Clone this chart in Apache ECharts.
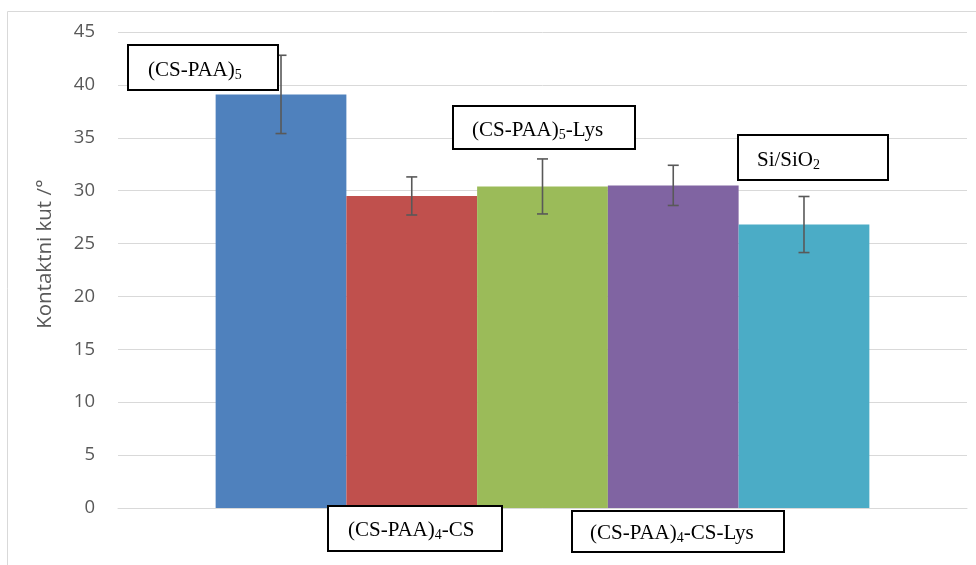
<!DOCTYPE html>
<html>
<head>
<meta charset="utf-8">
<script src="https://cdn.jsdelivr.net/npm/echarts@6/dist/echarts.min.js"></script>
<style>
html,body{margin:0;padding:0;background:#fff;}
#c{width:976px;height:565px;}
</style>
</head>
<body>
<div id="c"></div>
<script>
// ---- data ----
var seriesNames = ['(CS-PAA)5', '(CS-PAA)4-CS', '(CS-PAA)5-Lys', '(CS-PAA)4-CS-Lys', 'Si/SiO2'];
var values = [39.1, 29.5, 30.4, 30.5, 26.8];
var errors = [3.7, 1.8, 2.6, 1.9, 2.65];
var colors = ['#4F81BD', '#C0504D', '#9BBB59', '#8064A2', '#4BACC6'];
var yTicks = [0, 5, 10, 15, 20, 25, 30, 35, 40, 45];
var yName = 'Kontaktni kut /°';

var catGap = 0.23;
var chart = echarts.init(document.getElementById('c'));

var series = seriesNames.map(function (n, i) {
  return {
    type: 'bar', name: n, data: [values[i]],
    barGap: '0%', barCategoryGap: (catGap * 100) + '%',
    itemStyle: { color: colors[i] }, silent: true, animation: false
  };
});

series.push({
  type: 'custom', animation: false, silent: true, z: 10,
  data: values.map(function (v, i) { return [0, v + errors[i], v - errors[i], i]; }),
  renderItem: function (params, api) {
    var idx = api.value(3);
    var hi = api.coord([0, api.value(1)]);
    var lo = api.coord([0, api.value(2)]);
    var band = api.size([1, 0])[0];
    var bw = band * (1 - catGap) / seriesNames.length;
    var x = hi[0] + (idx - (seriesNames.length - 1) / 2) * bw;
    var cap = 5.5;
    var st = { stroke: '#595959', lineWidth: 1.6 };
    return { type: 'group', children: [
      { type: 'line', shape: { x1: x, y1: hi[1], x2: x, y2: lo[1] }, style: st },
      { type: 'line', shape: { x1: x - cap, y1: hi[1], x2: x + cap, y2: hi[1] }, style: st },
      { type: 'line', shape: { x1: x - cap, y1: lo[1], x2: x + cap, y2: lo[1] }, style: st }
    ]};
  }
});

var serif = '"Liberation Serif", "Times New Roman", serif';
var rich = {
  n: { fontFamily: serif, fontSize: 21, color: '#000' },
  s: { fontFamily: serif, fontSize: 14, color: '#000', padding: [10, 0, 0, 0] }
};
function box(x, y, w, h, tx, dy, parts) {
  return [
    { type: 'rect', left: x, top: y, shape: { width: w, height: h },
      style: { fill: '#fff', stroke: '#000', lineWidth: 2 }, z: 20 },
    { type: 'text', x: tx, y: y + h / 2 + dy, z: 21,
      style: { text: parts, rich: rich, verticalAlign: 'middle', align: 'left' } }
  ];
}

var graphics = [].concat(
  [{ type: 'rect', shape: { x: 7.5, y: 11.5, width: 1000, height: 600 },
     style: { fill: 'none', stroke: '#d9d9d9', lineWidth: 1 }, z: 0, silent: true },
   { type: 'text', x: 45, y: 254, rotation: Math.PI / 2, z: 5,
     style: { text: yName, fontFamily: '"Open Sans", sans-serif', fontSize: 20.5, fill: '#595959',
              align: 'center', verticalAlign: 'middle' } }],
  box(127, 44, 150, 45, 148, 4, '{n|(CS-PAA)}{s|5}'),
  box(452, 105, 182, 43, 472, 4, '{n|(CS-PAA)}{s|5}{n|-Lys}'),
  box(737, 134, 150, 45, 757, 4, '{n|Si/SiO}{s|2}'),
  box(327, 505, 174, 45, 348, 3, '{n|(CS-PAA)}{s|4}{n|-CS}'),
  box(571, 510, 212, 41, 590, 3, '{n|(CS-PAA)}{s|4}{n|-CS-Lys}')
);

chart.setOption({
  animation: false,
  grid: { left: 118, right: 9, top: 32, bottom: 57, containLabel: false },
  xAxis: {
    type: 'category', data: [''],
    axisLine: { show: true, lineStyle: { color: '#d9d9d9', width: 1 } },
    axisTick: { show: false }, axisLabel: { show: false }, splitLine: { show: false }
  },
  yAxis: {
    type: 'value', min: yTicks[0], max: yTicks[yTicks.length - 1], interval: 5,
    axisLine: { show: false }, axisTick: { show: false },
    axisLabel: { color: '#595959', fontSize: 18.5, fontFamily: '"Open Sans", sans-serif', margin: 23 },
    splitLine: { lineStyle: { color: '#d9d9d9', width: 1 } }
  },
  series: series,
  graphic: graphics
});
</script>
</body>
</html>
